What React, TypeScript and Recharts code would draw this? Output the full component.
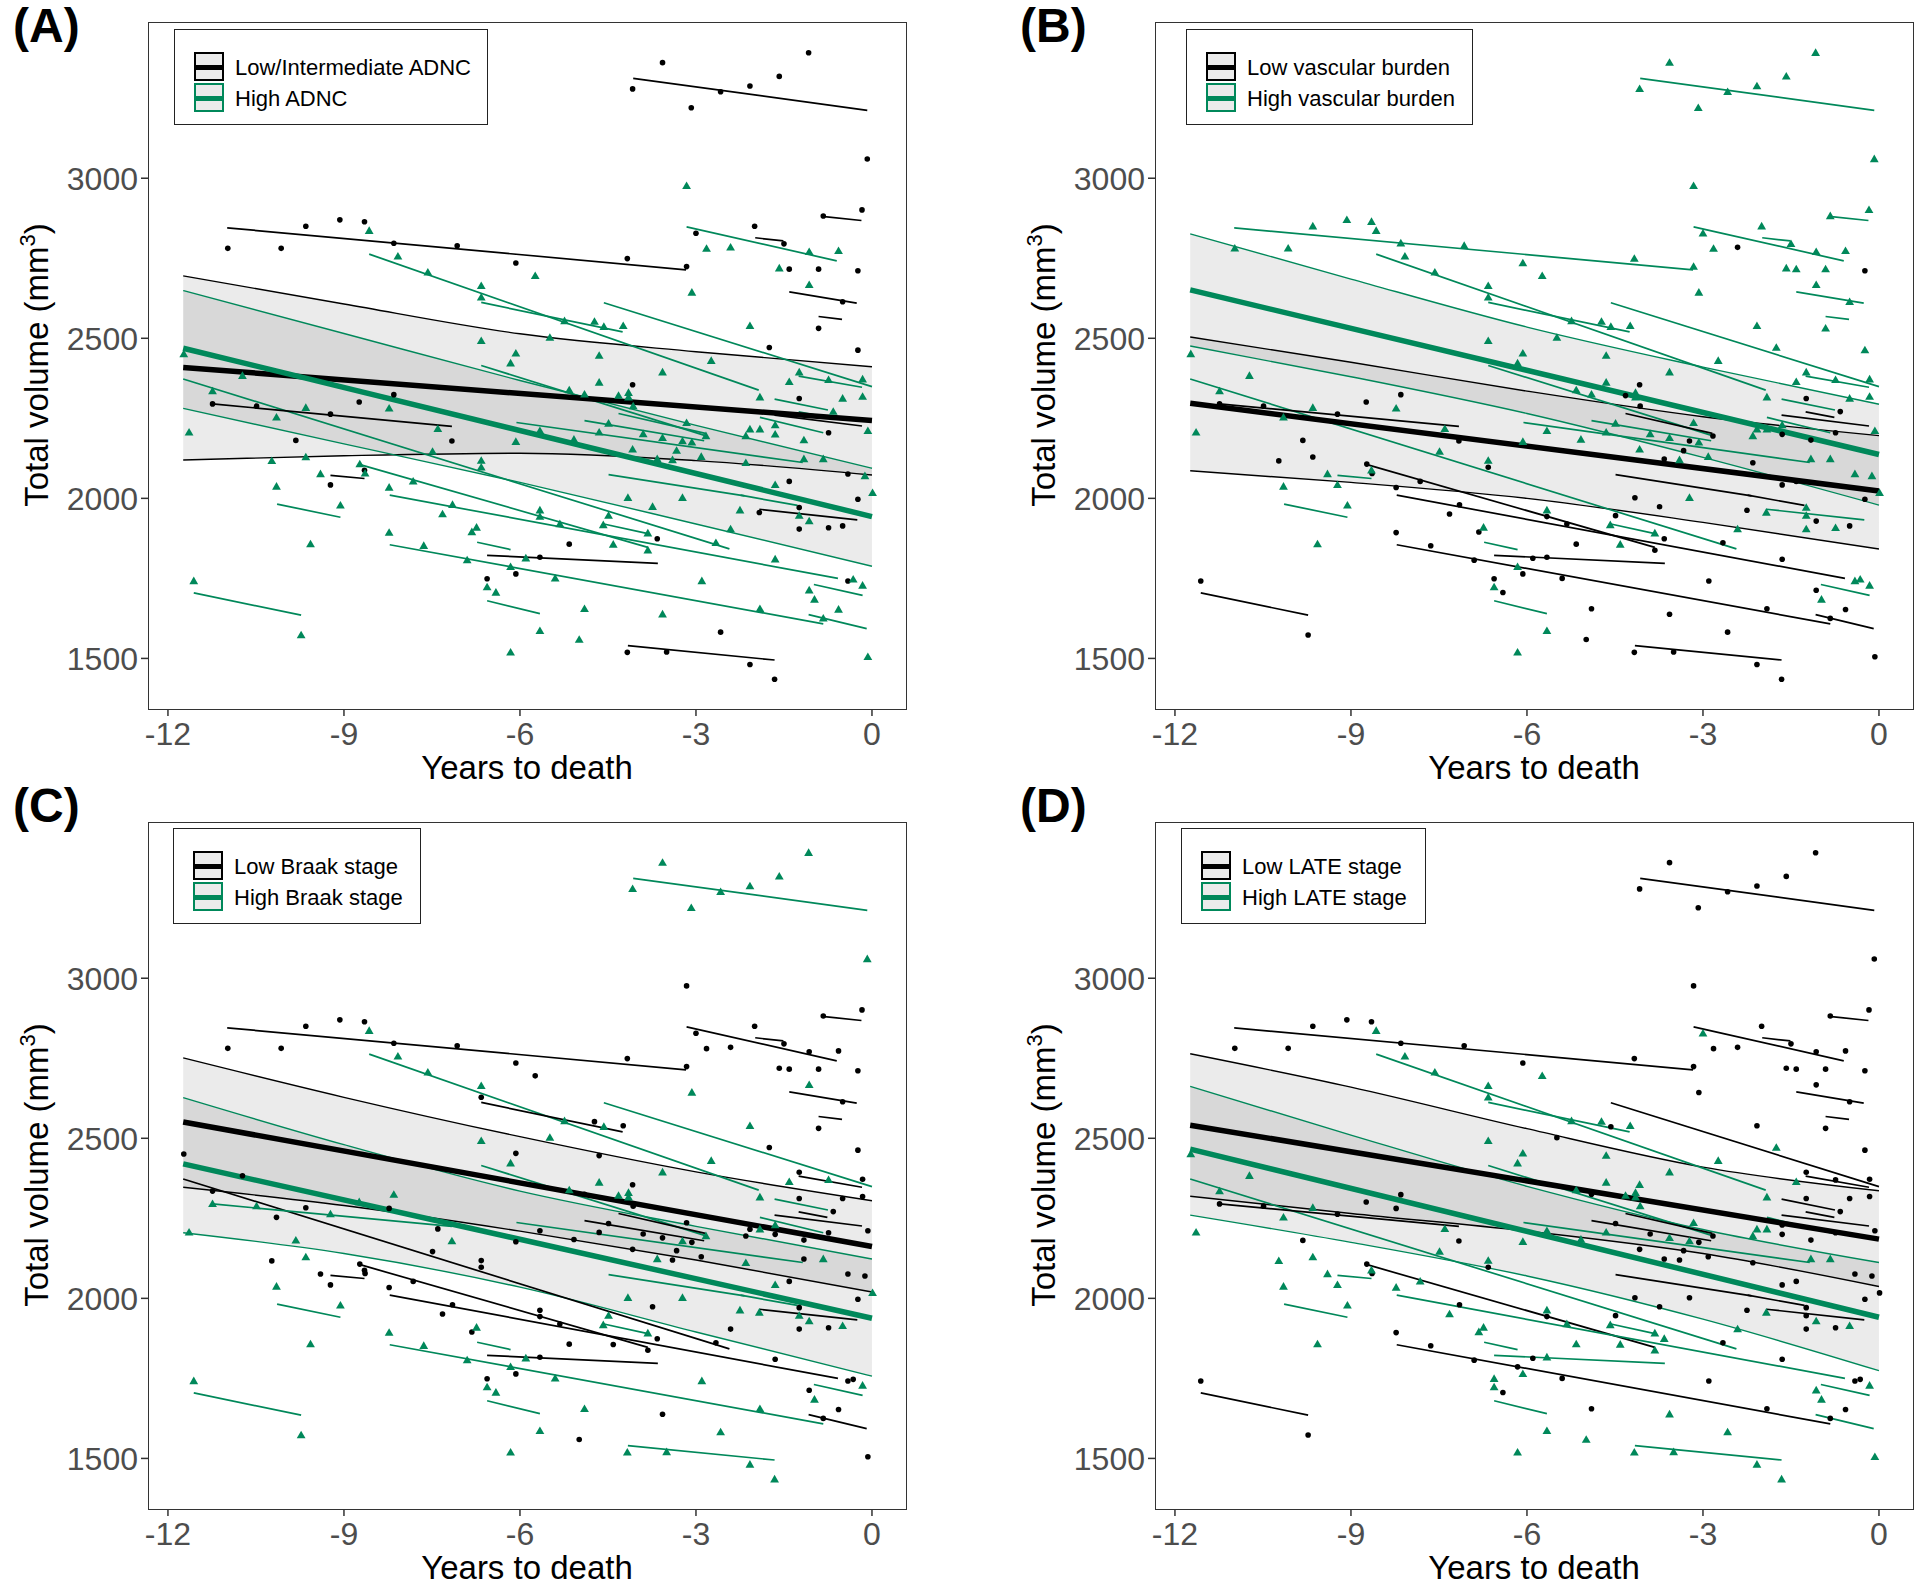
import React from 'react';
import { ComposedChart, XAxis, YAxis, Line, Area, Scatter } from 'recharts';

const GREEN = '#00885A';
const FONT = 'Arial, "Liberation Sans", Helvetica, sans-serif';

const xTicks = [-12, -9, -6, -3, 0];
const yTicks = [1500, 2000, 2500, 3000];
const bandYears = [-11.74, -9, -6, -3, 0];

const panelLetters = ['(A)', '(B)', '(C)', '(D)'];
const lowLabels = ['Low/Intermediate ADNC', 'Low vascular burden', 'Low Braak stage', 'Low LATE stage'];
const highLabels = ['High ADNC', 'High vascular burden', 'High Braak stage', 'High LATE stage'];

// confidence bands, one row per panel, read at bandYears
const lowBandUpper = [
  [2695, 2607, 2514, 2458, 2411],
  [2504, 2425, 2335, 2255, 2196],
  [2751, 2628, 2505, 2395, 2305],
  [2764, 2660, 2530, 2410, 2336],
];
const lowBandLower = [
  [2120, 2133, 2141, 2118, 2073],
  [2086, 2050, 2000, 1925, 1842],
  [2347, 2290, 2210, 2120, 2020],
  [2319, 2265, 2210, 2140, 2037],
];
const highBandUpper = [
  [2649, 2515, 2368, 2228, 2094],
  [2826, 2685, 2535, 2410, 2294],
  [2627, 2480, 2335, 2225, 2123],
  [2662, 2510, 2350, 2215, 2112],
];
const highBandLower = [
  [2281, 2170, 2050, 1920, 1788],
  [2476, 2380, 2265, 2128, 1979],
  [2205, 2140, 2035, 1895, 1757],
  [2260, 2175, 2070, 1935, 1774],
];
// group mean lines: value at -11.74 and at 0
const lowMean = [[2409, 2243], [2297, 2023], [2551, 2162], [2541, 2185]];
const highMean = [[2469, 1943], [2651, 2137], [2420, 1938], [2466, 1941]];

// observations: years to death, volume, group per panel A-D (k = low, g = high)
const points: [number, number, string][] = [
  [-4.08, 3279, 'kggk'], [-3.57, 3361, 'kggk'], [-3.08, 3220, 'kggk'], [-2.58, 3270, 'kggk'],
  [-2.08, 3288, 'kggk'], [-1.58, 3318, 'kggk'], [-1.08, 3392, 'kggk'], [-0.08, 3060, 'kggk'],
  [-0.83, 2882, 'kgkk'], [-0.17, 2901, 'kgkk'], [-3.16, 2976, 'ggkk'], [-3.0, 2828, 'kgkg'],
  [-2.82, 2780, 'ggkk'], [-2.41, 2784, 'gkkk'], [-2.0, 2850, 'kgkk'], [-1.5, 2795, 'kgkk'],
  [-1.07, 2770, 'ggkk'], [-0.57, 2773, 'ggkk'], [-4.17, 2749, 'kgkk'], [-3.16, 2724, 'kgkk'],
  [-1.58, 2719, 'ggkk'], [-1.41, 2716, 'kgkk'], [-0.91, 2716, 'kgkk'], [-0.24, 2711, 'kkkk'],
  [-5.74, 2695, 'ggkg'], [-3.07, 2643, 'gggk'], [-1.07, 2667, 'gggk'], [-0.5, 2614, 'kgkk'],
  [-5.24, 2554, 'gggg'], [-4.73, 2552, 'ggkg'], [-4.57, 2536, 'gggk'], [-4.24, 2539, 'ggkg'],
  [-2.08, 2539, 'gggk'], [-0.91, 2531, 'kgkk'], [-5.49, 2502, 'gggk'], [-1.75, 2471, 'kgkg'],
  [-0.24, 2463, 'kgkk'], [-4.65, 2446, 'ggkg'], [-2.74, 2430, 'gggg'],
  [-10.98, 2781, 'kgkk'], [-10.07, 2781, 'kgkk'], [-9.65, 2850, 'kgkk'], [-9.07, 2870, 'kgkk'],
  [-8.65, 2864, 'kgkk'], [-8.57, 2836, 'gggg'], [-8.15, 2797, 'kgkk'], [-8.08, 2756, 'gggg'],
  [-7.57, 2706, 'gggg'], [-7.07, 2789, 'kgkk'], [-6.66, 2664, 'gggg'], [-6.66, 2628, 'ggkg'],
  [-6.07, 2735, 'kgkk'], [-6.66, 2492, 'gggg'], [-6.07, 2453, 'ggkg'], [-6.16, 2422, 'gggg'],
  [-11.73, 2451, 'ggkg'],
  [-10.73, 2383, 'ggkg'], [-11.24, 2335, 'ggkg'], [-11.24, 2295, 'kkgk'], [-10.49, 2288, 'kkgk'],
  [-9.65, 2283, 'ggkg'], [-8.74, 2301, 'kkgk'], [-8.15, 2324, 'kkgk'], [-8.23, 2281, 'ggkk'],
  [-10.15, 2253, 'ggkg'], [-9.23, 2263, 'kkgk'], [-11.64, 2206, 'gggg'], [-9.82, 2181, 'kkgk'],
  [-7.4, 2217, 'ggkg'], [-7.16, 2179, 'kkgk'], [-7.49, 2146, 'ggkg'], [-6.07, 2177, 'ggkg'],
  [-10.23, 2117, 'gkkg'], [-9.65, 2129, 'gkgg'], [-8.73, 2107, 'gkkk'], [-8.65, 2088, 'kgkg'],
  [-8.64, 2078, 'gkkk'], [-6.66, 2118, 'ggkg'], [-6.66, 2097, 'gkkk'], [-9.4, 2076, 'ggkg'],
  [-9.23, 2042, 'kgkg'], [-10.15, 2037, 'gggg'], [-8.23, 2034, 'gkkg'], [-7.82, 2053, 'gkkg'],
  [-9.06, 1978, 'gggg'], [-7.15, 1980, 'gkkk'], [-7.32, 1951, 'gkkg'], [-8.23, 1893, 'gkgk'],
  [-6.82, 1895, 'gkkg'], [-6.74, 1909, 'gggg'], [-9.57, 1857, 'gggg'], [-7.64, 1852, 'gkgk'],
  [-6.9, 1807, 'gkgk'], [-6.16, 1786, 'gggk'], [-5.9, 1813, 'gkgk'], [-6.56, 1749, 'kkkg'],
  [-6.07, 1764, 'kkkg'], [-6.56, 1723, 'gggg'], [-6.41, 1706, 'gkgk'], [-11.56, 1742, 'gkgk'],
  [-9.73, 1573, 'gkgk'], [-6.16, 1519, 'gggg'],
  [-3.57, 2394, 'gggg'], [-1.24, 2394, 'ggkk'], [-4.65, 2362, 'gggg'], [-4.08, 2355, 'kkkg'],
  [-1.41, 2364, 'gggg'], [-0.74, 2370, 'gggk'], [-0.16, 2372, 'ggkk'], [-5.16, 2338, 'gggg'],
  [-4.9, 2325, 'ggkk'], [-4.32, 2321, 'gkgg'], [-4.15, 2330, 'gggg'], [-4.15, 2316, 'gggg'],
  [-4.07, 2288, 'gkkg'], [-1.91, 2316, 'gggg'], [-1.24, 2312, 'kkkk'], [-0.5, 2312, 'ggkk'],
  [-0.16, 2318, 'ggkk'], [-0.66, 2271, 'gkkk'], [-5.66, 2211, 'ggkg'], [-4.65, 2206, 'ggkg'],
  [-4.49, 2234, 'ggkk'], [-3.16, 2236, 'ggkg'], [-5.08, 2184, 'ggkg'], [-2.08, 2216, 'ggkg'],
  [-1.91, 2216, 'gggg'], [-1.65, 2229, 'gggk'], [-1.65, 2200, 'gkkk'], [-0.74, 2205, 'kkkk'],
  [-0.07, 2211, 'ggkk'], [-3.9, 2201, 'ggkk'], [-3.57, 2189, 'ggkg'], [-3.23, 2179, 'gkgg'],
  [-3.07, 2175, 'ggkk'], [-2.83, 2195, 'gkgk'], [-2.15, 2195, 'ggkg'], [-1.16, 2182, 'gkkk'],
  [-4.08, 2153, 'ggkk'], [-3.33, 2149, 'gkkk'], [-2.91, 2130, 'ggkk'], [-3.66, 2123, 'gkgk'],
  [-3.4, 2120, 'ggkk'], [-2.15, 2111, 'gkgk'], [-1.16, 2123, 'ggkg'], [-0.83, 2123, 'gggg'],
  [-0.41, 2076, 'kgkk'], [-0.12, 2070, 'ggkk'], [-1.41, 2053, 'kkkk'], [-1.65, 2042, 'gkgk'],
  [0.01, 2017, 'gggk'], [-0.24, 1997, 'kkkk'], [-4.16, 2002, 'gkgk'], [-3.23, 2002, 'gggk'],
  [-3.74, 1974, 'gkkk'], [-2.25, 1963, 'gkgk'], [-1.92, 1956, 'kggg'], [-1.24, 1971, 'kgkk'],
  [-1.24, 1946, 'gggk'], [-1.07, 1929, 'gkgg'], [-1.24, 1904, 'kgkk'], [-0.74, 1908, 'kgkk'],
  [-0.5, 1914, 'kkgg'], [-5.66, 1963, 'ggkg'], [-5.66, 1943, 'gkkk'], [-5.32, 1920, 'gkkg'],
  [-4.49, 1946, 'gkgk'], [-4.58, 1917, 'gggg'], [-3.82, 1891, 'gggg'], [-2.41, 1904, 'ggkg'],
  [-5.16, 1857, 'kkkg'], [-4.41, 1856, 'ggkg'], [-3.82, 1838, 'gkkg'], [-2.66, 1861, 'gkkk'],
  [-3.66, 1874, 'kkkg'], [-5.66, 1816, 'kkkg'], [-1.65, 1810, 'gkkk'], [-5.4, 1750, 'gkgk'],
  [-2.9, 1742, 'gkgk'], [-0.41, 1742, 'kgkk'], [-0.32, 1747, 'ggkk'], [-0.16, 1728, 'gggg'],
  [-1.07, 1713, 'gkkg'], [-0.98, 1684, 'gggg'], [-4.9, 1655, 'gkgk'], [-1.91, 1655, 'gkgk'],
  [-0.57, 1653, 'gkkk'], [-3.57, 1638, 'gkkg'], [-0.83, 1625, 'gkkk'], [-5.66, 1586, 'gggg'],
  [-4.99, 1559, 'gkkg'], [-2.58, 1582, 'kkgg'], [-4.17, 1519, 'kkgg'], [-3.5, 1520, 'kkgg'],
  [-2.08, 1481, 'kkgg'], [-1.66, 1435, 'kkgg'], [-0.07, 1505, 'gkkg'],
];

// subject trajectories: start year, start volume, end year, end volume, group per panel
const subjectLines: [number, number, number, number, string][] = [
  [-4.07, 3312, -0.08, 3212, 'kggk'],
  [-10.99, 2845, -3.17, 2714, 'kgkk'],
  [-0.85, 2881, -0.18, 2868, 'kgkk'],
  [-3.16, 2848, -0.6, 2742, 'ggkk'],
  [-1.99, 2814, -1.51, 2804, 'kgkk'],
  [-8.57, 2763, -1.93, 2338, 'gggg'],
  [-6.66, 2612, -4.25, 2520, 'ggkg'],
  [-4.57, 2611, 0, 2349, 'gggk'],
  [-1.41, 2645, -0.26, 2610, 'kgkk'],
  [-0.91, 2568, -0.51, 2559, 'kgkk'],
  [-1.25, 2382, -0.17, 2347, 'ggkk'],
  [-6.66, 2415, -2.84, 2196, 'gggg'],
  [-11.74, 2373, -2.43, 1842, 'ggkg'],
  [-11.24, 2295, -7.16, 2225, 'kkgk'],
  [-4.9, 2243, -2.86, 2180, 'ggkk'],
  [-4.32, 2265, -2.84, 2203, 'gkkk'],
  [-4.49, 2074, -2.17, 2008, 'gkgk'],
  [-1.66, 2310, -0.75, 2276, 'gggk'],
  [-1.25, 2270, -0.76, 2253, 'gkkk'],
  [-1.66, 2260, -0.17, 2226, 'kkkk'],
  [-1.91, 2253, -0.83, 2205, 'gggg'],
  [-6.06, 2237, -1.18, 2112, 'gggg'],
  [-9.23, 2072, -8.65, 2062, 'kgkg'],
  [-8.74, 2106, -3.82, 1847, 'gkkk'],
  [-8.22, 2010, -0.58, 1750, 'gkkg'],
  [-6.56, 1822, -3.65, 1797, 'kkkg'],
  [-1.92, 1966, -0.25, 1933, 'kgkk'],
  [-2.24, 2010, -1.27, 1978, 'gkgk'],
  [-1.08, 1637, -0.09, 1593, 'gkkg'],
  [-0.99, 1731, -0.16, 1697, 'gggg'],
  [-10.14, 1982, -9.06, 1941, 'gggg'],
  [-11.56, 1705, -9.73, 1635, 'gkgk'],
  [-8.22, 1855, -0.83, 1608, 'gkgk'],
  [-6.73, 1863, -6.16, 1840, 'gggg'],
  [-6.56, 1680, -5.66, 1640, 'gggg'],
  [-4.57, 1920, -3.82, 1890, 'gggg'],
  [-4.16, 1540, -1.66, 1495, 'kkgg'],
];

const panelLeft = [0, 1007, 0, 1007];
const panelTop = [0, 0, 800, 800];
const legendLeft = [174, 179, 173, 174];
const legendTop = [29, 29, 28, 28];
const legendWidth = [314, 287, 248, 245];

const dot = (props: any) => <circle cx={props.cx} cy={props.cy} r={2.8} fill="#000" />;
const tri = (props: any) => {
  const { cx, cy } = props;
  return <polygon points={`${cx},${cy - 4.4} ${cx - 4.4},${cy + 3.2} ${cx + 4.4},${cy + 3.2}`} fill={GREEN} />;
};

const LegendKey = ({ color, top }: { color: string; top: number }) => (
  <div style={{ position: 'absolute', left: 19, top, width: 30, height: 29, boxSizing: 'border-box', border: `2px solid ${color}`, background: '#EBEBEB' }}>
    <div style={{ position: 'absolute', left: 0, right: 0, top: 10.5, height: 5, background: color }} />
  </div>
);

const Panel = ({ idx }: { idx: number }) => {
  const rows = bandYears.map((t, i) => ({
    t,
    lowBand: [lowBandLower[idx][i], lowBandUpper[idx][i]],
    highBand: [highBandLower[idx][i], highBandUpper[idx][i]],
    lowUp: lowBandUpper[idx][i],
    lowLo: lowBandLower[idx][i],
    highUp: highBandUpper[idx][i],
    highLo: highBandLower[idx][i],
  }));
  const blackPts = points.filter((p) => p[2][idx] === 'k').map((p) => ({ t: p[0], v: p[1] }));
  const greenPts = points.filter((p) => p[2][idx] === 'g').map((p) => ({ t: p[0], v: p[1] }));
  const lowMeanData = [{ t: bandYears[0], v: lowMean[idx][0] }, { t: 0, v: lowMean[idx][1] }];
  const highMeanData = [{ t: bandYears[0], v: highMean[idx][0] }, { t: 0, v: highMean[idx][1] }];

  return (
    <div style={{ position: 'absolute', left: panelLeft[idx], top: panelTop[idx], width: 913, height: 800, fontFamily: FONT }}>
      <ComposedChart width={913} height={800} data={rows} margin={{ top: 22, right: 7, bottom: 0, left: 0 }}>
        <XAxis
          type="number"
          dataKey="t"
          domain={[-12.34, 0.58]}
          allowDataOverflow
          ticks={xTicks}
          interval={0}
          height={91}
          tickSize={7}
          tickMargin={6}
          axisLine={false}
          tickLine={{ stroke: '#333', strokeWidth: 1.5 }}
          tick={{ fontSize: 32, fill: '#4D4D4D', fontFamily: FONT }}
        />
        <YAxis
          type="number"
          domain={[1342, 3488]}
          allowDataOverflow
          ticks={yTicks}
          interval={0}
          width={148}
          tickSize={7}
          tickMargin={3}
          axisLine={false}
          tickLine={{ stroke: '#333', strokeWidth: 1.5 }}
          tick={{ fontSize: 32, fill: '#4D4D4D', fontFamily: FONT }}
        />
        <Area type="monotone" dataKey="lowBand" fill="#000" fillOpacity={0.08} stroke="none" isAnimationActive={false} />
        <Area type="monotone" dataKey="highBand" fill="#000" fillOpacity={0.08} stroke="none" isAnimationActive={false} />
        <Line type="monotone" dataKey="lowUp" stroke="#000" strokeWidth={1.4} dot={false} isAnimationActive={false} />
        <Line type="monotone" dataKey="lowLo" stroke="#000" strokeWidth={1.4} dot={false} isAnimationActive={false} />
        <Line type="monotone" dataKey="highUp" stroke={GREEN} strokeWidth={1.4} dot={false} isAnimationActive={false} />
        <Line type="monotone" dataKey="highLo" stroke={GREEN} strokeWidth={1.4} dot={false} isAnimationActive={false} />
        {subjectLines.map((s, i) => (
          <Line
            key={`s${i}`}
            data={[{ t: s[0], v: s[1] }, { t: s[2], v: s[3] }]}
            dataKey="v"
            type="linear"
            stroke={s[4][idx] === 'g' ? GREEN : '#000'}
            strokeWidth={1.7}
            dot={false}
            isAnimationActive={false}
          />
        ))}
        <Scatter data={blackPts} dataKey="v" shape={dot} isAnimationActive={false} />
        <Scatter data={greenPts} dataKey="v" shape={tri} isAnimationActive={false} />
        <Line data={lowMeanData} dataKey="v" type="linear" stroke="#000" strokeWidth={5.5} dot={false} isAnimationActive={false} />
        <Line data={highMeanData} dataKey="v" type="linear" stroke={GREEN} strokeWidth={5.5} dot={false} isAnimationActive={false} />
      </ComposedChart>

      <div style={{ position: 'absolute', left: 147.5, top: 21.5, width: 759.5, height: 688, boxSizing: 'border-box', border: '1.6px solid #333', pointerEvents: 'none' }} />

      <div style={{ position: 'absolute', left: legendLeft[idx], top: legendTop[idx], width: legendWidth[idx], height: 96, boxSizing: 'border-box', border: '1.6px solid #222', background: '#fff' }}>
        <LegendKey color="#000" top={22} />
        <LegendKey color={GREEN} top={53} />
        <div style={{ position: 'absolute', left: 60, top: 25, fontSize: 22, lineHeight: '26px', whiteSpace: 'nowrap', color: '#000' }}>{lowLabels[idx]}</div>
        <div style={{ position: 'absolute', left: 60, top: 56, fontSize: 22, lineHeight: '26px', whiteSpace: 'nowrap', color: '#000' }}>{highLabels[idx]}</div>
      </div>

      <div style={{ position: 'absolute', left: 13, top: idx < 2 ? 2 : -18, fontSize: 48, lineHeight: '48px', fontWeight: 'bold', color: '#000' }}>{panelLetters[idx]}</div>

      <div style={{ position: 'absolute', left: 327, top: 751, width: 400, textAlign: 'center', fontSize: 33, lineHeight: '33px', color: '#000' }}>Years to death</div>

      <div style={{ position: 'absolute', left: -163.5, top: 345, width: 400, height: 40, textAlign: 'center', fontSize: 33, lineHeight: '40px', color: '#000', transform: 'rotate(-90deg)', whiteSpace: 'nowrap' }}>
        Total volume (mm<span style={{ fontSize: 22, position: 'relative', top: -13 }}>3</span>)
      </div>
    </div>
  );
}

export default function App() {
  return (
    <div style={{ position: 'absolute', left: 0, top: 0, width: 1920, height: 1588, overflow: 'hidden', background: '#fff' }}>
      {[0, 1, 2, 3].map((i) => (
        <Panel key={i} idx={i} />
      ))}
    </div>
  );
}
